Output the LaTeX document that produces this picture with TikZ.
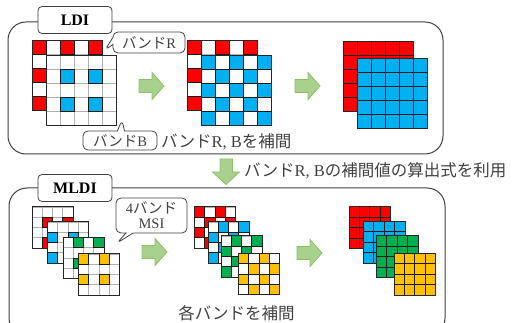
\documentclass[tikz,border=0pt]{standalone}
\usepackage{fontspec}
\setmainfont{Liberation Serif}
\newfontfamily\jp{Noto Sans CJK JP}
\usetikzlibrary{shapes.callouts}

\definecolor{bandR}{HTML}{FF0000}
\definecolor{bandB}{HTML}{00B0F0}
\definecolor{bandG}{HTML}{00B050}
\definecolor{bandY}{HTML}{FFC000}
\definecolor{arrowfill}{HTML}{A9D18E}
\definecolor{arrowline}{HTML}{8CC068}
\definecolor{txt}{HTML}{404040}

% x, y (top left), cells per side, cell size, colour, rule in \r and \c
\newcommand{\bandgrid}[6]{%
  \pgfmathtruncatemacro\nmax{#3-1}
  \foreach \r in {0,...,\nmax}
    \foreach \c in {0,...,\nmax}
      \filldraw[fill=white,draw=gray!60,line width=0.9pt] ({#1+\c*#4},{#2+\r*#4}) rectangle ++(#4,#4);
  \foreach \r in {0,...,\nmax}
    \foreach \c in {0,...,\nmax}{
      \pgfmathtruncatemacro\on{#6}
      \ifnum\on>0
        \filldraw[fill=#5,draw=black!90,line width=1pt] ({#1+\c*#4},{#2+\r*#4}) rectangle ++(#4,#4);
      \fi}
  \draw[black!85,line width=1pt] (#1,#2) rectangle ++({#3*#4},{#3*#4});
}

\tikzset{
  frame/.style={draw=black!75, line width=1pt, rounded corners=18},
  tag/.style={draw=black!75, line width=0.8pt, fill=white, rounded corners=4,
    minimum width=74, minimum height=27, inner sep=0, font=\fontsize{16}{18}\selectfont\bfseries},
  balloon/.style={rectangle callout, draw=black!75, line width=0.8pt, fill=white,
    rounded corners=5, inner sep=0, text=txt, align=center,
    font=\fontsize{14.5}{15}\selectfont},
  note/.style={inner sep=0, text=txt, font=\fontsize{16.5}{18}\selectfont},
  garrow/.style={fill=arrowfill, draw=arrowline, line width=0.8pt, line join=miter}
}

\begin{document}
\begin{tikzpicture}[x=1pt,y=-1pt]
  \useasboundingbox (0,0) rectangle (512,323);

  % LDI
  \draw[frame] (8,22) rectangle (443,154);
  \node[tag] (ldi) at (75,20) {LDI};

  \bandgrid{32.5}{40.5}{5}{14}{bandR}{or(and(\r==0,mod(\c,2)==0),and(\c==0,mod(\r,2)==0))}
  \bandgrid{46.5}{55.5}{5}{14}{bandB}{and(mod(\r,2)==1,mod(\c,2)==1)}

  \bandgrid{187.5}{40.5}{5}{14}{bandR}{or(and(\r==0,mod(\c,2)==0),and(\c==0,mod(\r,2)==0))}
  \bandgrid{201.5}{55.5}{5}{14}{bandB}{mod(\r+\c,2)==0}

  \bandgrid{343.5}{41.5}{5}{14}{bandR}{1}
  \bandgrid{357.5}{58.5}{5}{14}{bandB}{1}

  \node[balloon, minimum width=72, minimum height=21,
    callout absolute pointer={(105,50)}] (calloutR) at (149,42.5) {{\jp バンド}R};
  \node[balloon, minimum width=74, minimum height=19,
    callout absolute pointer={(122,120)}] (calloutB) at (120,140.5) {{\jp バンド}B};
  \node[note, anchor=west] (interpRB) at (161,141.5) {{\jp バンド}R, B{\jp を補間}};

  % arrows
  \foreach \x/\y in {139/86, 295/86, 142/252, 297/253}
    \draw[garrow] (\x,\y-6.5) -- ++(13,0) -- ++(0,-7) -- ++(12,13.5) -- ++(-12,13.5)
      -- ++(0,-7) -- ++(-13,0) -- cycle;
  \draw[garrow] (220,159) -- (232.5,159) -- (232.5,172) -- (239.5,172) -- (226,184.5)
    -- (212.5,172) -- (220,172) -- cycle;
  \node[note, anchor=west] (reuse) at (244,171) {{\jp バンド}R, B{\jp の補間値の算出式を利用}};

  % MLDI
  \begin{scope}
    \clip (0,0) rectangle (512,323);
    \draw[frame] (9,188) rectangle (445,336);
  \end{scope}
  \node[tag] (mldi) at (75,188) {MLDI};

  \bandgrid{32}{207}{4}{10.3}{bandR}{and(mod(\r,2)==1,mod(\c,2)==1)}
  \bandgrid{47.5}{222}{4}{10.3}{bandB}{and(mod(\r,2)==1,mod(\c,2)==0)}
  \bandgrid{63}{237.5}{4}{10.3}{bandG}{and(mod(\r,2)==0,mod(\c,2)==1)}
  \bandgrid{78.5}{254}{4}{10.3}{bandY}{and(mod(\r,2)==0,mod(\c,2)==0)}

  \bandgrid{194.5}{207}{4}{10.3}{bandR}{mod(\r+\c,2)==0}
  \bandgrid{208}{222}{4}{10.3}{bandB}{mod(\r+\c,2)==1}
  \bandgrid{221}{236}{4}{10.3}{bandG}{mod(\r+\c,2)==1}
  \bandgrid{238.5}{253.5}{4}{10.3}{bandY}{mod(\r+\c,2)==0}

  \bandgrid{349}{207}{4}{10.4}{bandR}{1}
  \bandgrid{363.5}{221.5}{4}{10.4}{bandB}{1}
  \bandgrid{376.5}{236}{4}{10.4}{bandG}{1}
  \bandgrid{394}{253.5}{4}{10.4}{bandY}{1}

  \node[balloon, minimum width=71, minimum height=35,
    callout absolute pointer={(117,243)}] (calloutMSI) at (151.5,215.5)
    {4{\jp バンド}\\MSI};
  \node[note] (interpall) at (236.5,313) {\jp 各バンドを補間};
\end{tikzpicture}
\end{document}
